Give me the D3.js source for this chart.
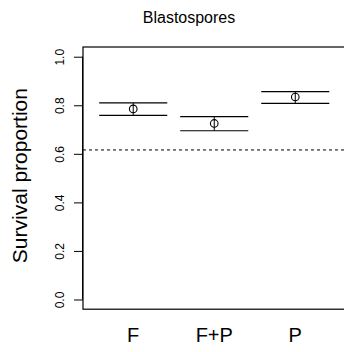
<!DOCTYPE html>
<html>
<head>
<meta charset="utf-8">
<script src="https://cdn.jsdelivr.net/npm/d3@7"></script>
<style>
  body { margin: 0; background: #fff; }
  svg { display: block; font-family: 'Liberation Sans', Arial, Helvetica, sans-serif; }
</style>
</head>
<body>
<svg id="chart"></svg>
<script>
const groups = ['F', 'F+P', 'P'];
const means = [0.785, 0.725, 0.834];
const lower = [0.758, 0.695, 0.808];
const upper = [0.810, 0.753, 0.856];
const refLine = 0.616;
const yTicks = [0, 0.2, 0.4, 0.6, 0.8, 1.0];

const width = 344;
const height = 352;

const svg = d3.select('#chart').attr('width', width).attr('height', height);

// R style: categories at 1..n, 4% padding around 0.5..n+0.5
const x = d3.scaleLinear().domain([0.38, 3.62]).range([83, 345.5]);
const y = d3.scaleLinear().domain([-0.04, 1.04]).range([309.2, 47]);
const halfW = 0.42;

// box
svg.append('rect')
  .attr('x', x(0.38)).attr('y', y(1.04))
  .attr('width', x(3.62) - x(0.38)).attr('height', y(-0.04) - y(1.04))
  .attr('fill', 'none').attr('stroke', '#000').attr('stroke-width', 1.2);

// y axis
const yAxis = svg.append('g')
  .attr('transform', `translate(${x(0.38)},0)`)
  .call(d3.axisLeft(y).tickValues(yTicks).tickFormat(d3.format('.1f')).tickSize(9).tickSizeOuter(0));
yAxis.select('.domain').attr('d', `M-0.5,${y(0)}V${y(1)}`).attr('stroke', '#000');
yAxis.selectAll('line').attr('stroke', '#000');
yAxis.selectAll('text')
  .attr('x', null).attr('dy', null)
  .attr('transform', 'translate(-19,0) rotate(-90)')
  .attr('text-anchor', 'middle')
  .attr('fill', '#000')
  .style('font-family', "'Liberation Sans', Arial, sans-serif")
  .style('font-size', '12px');

// reference line
svg.append('line')
  .attr('x1', x(0.38)).attr('x2', x(3.62))
  .attr('y1', y(refLine)).attr('y2', y(refLine))
  .attr('stroke', '#000').attr('stroke-width', 1)
  .attr('stroke-dasharray', '3,3');

const g = svg.append('g').selectAll('g').data(groups).join('g');

g.append('line')
  .attr('x1', (d, i) => x(i + 1 - halfW)).attr('x2', (d, i) => x(i + 1 + halfW))
  .attr('y1', (d, i) => y(upper[i])).attr('y2', (d, i) => y(upper[i]))
  .attr('stroke', '#000').attr('stroke-width', 1.2);

g.append('line')
  .attr('x1', (d, i) => x(i + 1 - halfW)).attr('x2', (d, i) => x(i + 1 + halfW))
  .attr('y1', (d, i) => y(lower[i])).attr('y2', (d, i) => y(lower[i]))
  .attr('stroke', '#000').attr('stroke-width', 1.2);

g.append('line')
  .attr('x1', (d, i) => x(i + 1)).attr('x2', (d, i) => x(i + 1))
  .attr('y1', (d, i) => y(upper[i])).attr('y2', (d, i) => y(lower[i]))
  .attr('stroke', '#000').attr('stroke-width', 1);

g.append('circle')
  .attr('cx', (d, i) => x(i + 1)).attr('cy', (d, i) => y(means[i]))
  .attr('r', 3.8)
  .attr('fill', 'none').attr('stroke', '#000').attr('stroke-width', 1.1);

// category labels
svg.append('g').selectAll('text').data(groups).join('text')
  .attr('x', (d, i) => x(i + 1)).attr('y', 341.5)
  .attr('text-anchor', 'middle')
  .style('font-size', '20px')
  .text(d => d);

// title
svg.append('text')
  .attr('x', 189).attr('y', 23.3)
  .attr('text-anchor', 'middle')
  .style('font-size', '16px')
  .text('Blastospores');

// y label
svg.append('text')
  .attr('transform', 'translate(27,175.6) rotate(-90)')
  .attr('text-anchor', 'middle')
  .style('font-size', '21px')
  .text('Survival proportion');
</script>
</body>
</html>
